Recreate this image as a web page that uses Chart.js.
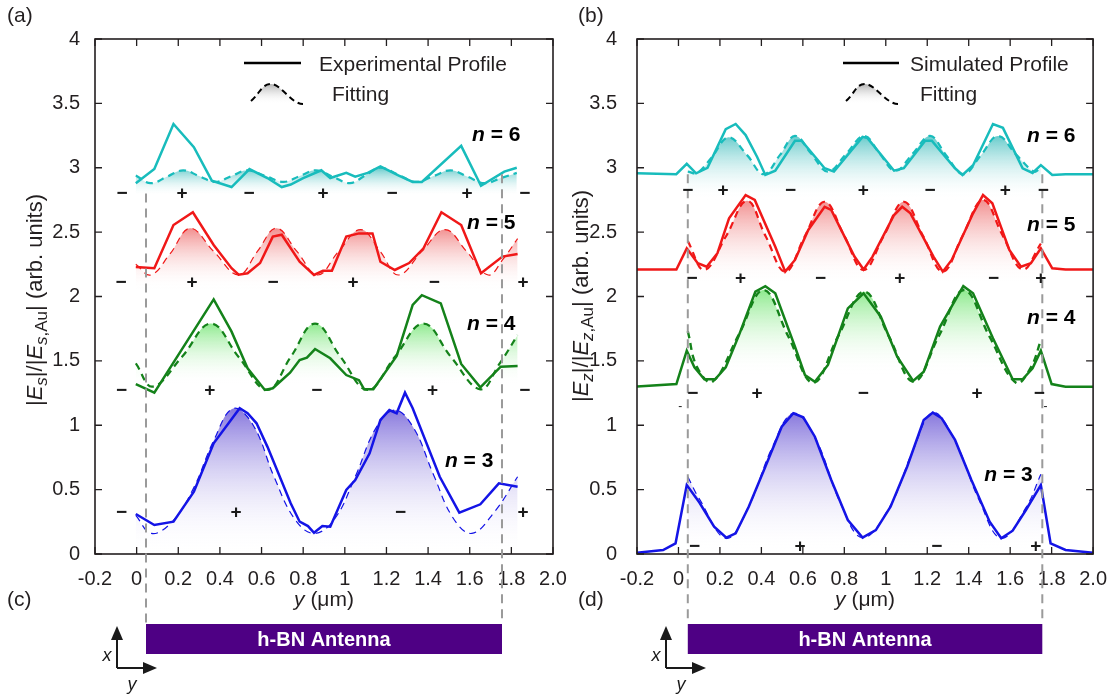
<!DOCTYPE html>
<html>
<head>
<meta charset="utf-8">
<script src="https://cdn.jsdelivr.net/npm/chart.js@4.4.1/dist/chart.umd.min.js"></script>
<style>
  html, body { margin: 0; padding: 0; background: #fff; }
  #wrap { position: relative; width: 1112px; height: 696px; overflow: hidden; }
  canvas { position: absolute; top: 0; }
  #cvA { left: 0; }
  #cvB { left: 556px; }
</style>
</head>
<body>
<div id="wrap">
  <canvas id="cvA" width="580" height="696"></canvas>
  <canvas id="cvB" width="556" height="696"></canvas>
</div>
<script>
// osy
const xTickVals = [-0.2, 0, 0.2, 0.4, 0.6, 0.8, 1, 1.2, 1.4, 1.6, 1.8, 2.0];
const xTickLabels = ['-0.2', '0', '0.2', '0.4', '0.6', '0.8', '1', '1.2', '1.4', '1.6', '1.8', '2.0'];
const yTickVals = [0, 0.5, 1, 1.5, 2, 2.5, 3, 3.5, 4];
const yTickLabels = ['0', '0.5', '1', '1.5', '2', '2.5', '3', '3.5', '4'];

// okraje antény (µm)
const antennaEdges = [0.045, 1.755];

// (a) experimentální profily
const aExp6 = [[-0.004,2.88],[0.085,2.99],[0.177,3.34],[0.275,3.16],[0.361,2.90],[0.456,2.85],[0.542,2.99],[0.628,2.92],[0.697,2.85],[0.74,2.87],[0.80,2.92],[0.887,2.98],[0.93,2.92],[1.007,2.96],[1.05,2.93],[1.11,2.96],[1.171,3.01],[1.257,2.94],[1.326,2.89],[1.37,2.89],[1.559,3.17],[1.654,2.86],[1.766,2.97],[1.826,3.0]];
const aFit6 = [[-0.004,2.94],[0.068,2.88],[0.145,2.93],[0.223,2.98],[0.30,2.935],[0.378,2.89],[0.455,2.935],[0.533,2.98],[0.62,2.935],[0.706,2.89],[0.783,2.935],[0.861,2.98],[0.943,2.93],[1.025,2.88],[1.098,2.94],[1.171,3.0],[1.257,2.945],[1.344,2.89],[1.426,2.935],[1.508,2.98],[1.59,2.93],[1.671,2.88],[1.75,2.92],[1.826,2.96]];
const aExp5 = [[-0.004,2.23],[0.085,2.22],[0.177,2.555],[0.27,2.654],[0.37,2.40],[0.456,2.22],[0.49,2.17],[0.533,2.18],[0.593,2.26],[0.654,2.465],[0.697,2.48],[0.783,2.27],[0.852,2.167],[0.895,2.20],[0.938,2.20],[1.007,2.465],[1.068,2.49],[1.133,2.49],[1.171,2.27],[1.24,2.206],[1.309,2.26],[1.378,2.374],[1.464,2.654],[1.559,2.555],[1.654,2.18],[1.757,2.31],[1.83,2.33]];
const aFit5 = [[-0.004,2.25],[0.068,2.167],[0.16,2.33],[0.257,2.53],[0.37,2.35],[0.49,2.167],[0.58,2.35],[0.671,2.53],[0.77,2.35],[0.87,2.167],[0.97,2.35],[1.076,2.52],[1.17,2.35],[1.257,2.167],[1.37,2.35],[1.481,2.52],[1.585,2.35],[1.689,2.167],[1.76,2.29],[1.83,2.45]];
const aExp4 = [[-0.004,1.32],[0.085,1.253],[0.37,1.978],[0.456,1.727],[0.533,1.442],[0.616,1.274],[0.654,1.287],[0.737,1.408],[0.783,1.507],[0.818,1.525],[0.857,1.592],[0.93,1.52],[1.007,1.39],[1.068,1.35],[1.093,1.279],[1.137,1.279],[1.249,1.538],[1.326,1.934],[1.37,2.01],[1.461,1.947],[1.559,1.476],[1.651,1.295],[1.749,1.455],[1.83,1.46]];
const aFit4 = [[-0.004,1.48],[0.077,1.30],[0.217,1.53],[0.357,1.79],[0.49,1.53],[0.628,1.274],[0.74,1.53],[0.857,1.79],[0.98,1.53],[1.11,1.274],[1.24,1.53],[1.378,1.79],[1.51,1.53],[1.651,1.279],[1.74,1.47],[1.83,1.70]];
const aExp3 = [[-0.004,0.311],[0.085,0.225],[0.177,0.251],[0.275,0.484],[0.37,0.86],[0.495,1.132],[0.533,1.093],[0.576,1.015],[0.628,0.834],[0.74,0.394],[0.783,0.251],[0.823,0.217],[0.852,0.165],[0.892,0.217],[0.93,0.212],[1.007,0.497],[1.05,0.575],[1.119,0.782],[1.171,1.041],[1.214,1.118],[1.249,1.093],[1.289,1.253],[1.326,1.132],[1.456,0.60],[1.55,0.321],[1.651,0.386],[1.74,0.549],[1.83,0.523]];
const aFit3 = [[-0.004,0.30],[0.071,0.16],[0.17,0.25],[0.27,0.50],[0.37,0.88],[0.464,1.13],[0.56,1.0],[0.66,0.60],[0.76,0.27],[0.852,0.16],[0.95,0.27],[1.05,0.60],[1.15,0.98],[1.24,1.118],[1.33,0.98],[1.425,0.62],[1.52,0.28],[1.61,0.16],[1.72,0.33],[1.83,0.60]];

// (b) simulované profily
const bSim6 = [[-0.2,2.957],[-0.0105,2.95],[0.04,3.03],[0.085,2.957],[0.14,3.0],[0.228,3.30],[0.276,3.34],[0.324,3.254],[0.379,3.086],[0.419,2.944],[0.467,2.977],[0.562,3.21],[0.594,3.21],[0.705,2.996],[0.75,2.97],[0.888,3.24],[0.912,3.23],[1.04,2.977],[1.087,2.996],[1.19,3.21],[1.222,3.21],[1.334,2.996],[1.37,2.944],[1.421,3.02],[1.517,3.34],[1.565,3.31],[1.66,2.996],[1.708,2.96],[1.748,3.02],[1.803,2.944],[1.867,2.95],[2.0,2.95]];
const bFit6 = [[0.045,2.97],[0.09,2.96],[0.16,3.08],[0.241,3.236],[0.33,3.1],[0.411,2.95],[0.49,3.1],[0.562,3.247],[0.64,3.11],[0.721,2.97],[0.81,3.11],[0.896,3.247],[0.97,3.11],[1.047,2.977],[1.13,3.11],[1.214,3.247],[1.29,3.1],[1.374,2.95],[1.46,3.1],[1.541,3.247],[1.63,3.1],[1.716,2.97],[1.748,3.0]];
const bSim5 = [[-0.2,2.21],[-0.01,2.21],[0.04,2.374],[0.093,2.258],[0.136,2.231],[0.188,2.336],[0.244,2.607],[0.324,2.788],[0.368,2.75],[0.467,2.387],[0.515,2.193],[0.562,2.284],[0.626,2.517],[0.705,2.697],[0.737,2.672],[0.849,2.31],[0.893,2.21],[0.936,2.31],[1.04,2.633],[1.079,2.697],[1.119,2.646],[1.23,2.31],[1.275,2.193],[1.318,2.284],[1.421,2.646],[1.469,2.788],[1.514,2.724],[1.596,2.361],[1.652,2.231],[1.7,2.258],[1.748,2.374],[1.803,2.219],[1.867,2.21],[2.0,2.21]];
const bFit5 = [[0.045,2.43],[0.125,2.206],[0.23,2.47],[0.331,2.744],[0.42,2.47],[0.515,2.193],[0.61,2.47],[0.705,2.736],[0.80,2.47],[0.893,2.206],[0.99,2.47],[1.087,2.736],[1.18,2.47],[1.275,2.193],[1.37,2.47],[1.469,2.75],[1.565,2.47],[1.66,2.21],[1.748,2.41]];
const bSim4 = [[-0.2,1.30],[-0.01,1.32],[0.04,1.579],[0.077,1.45],[0.125,1.357],[0.177,1.357],[0.228,1.45],[0.292,1.70],[0.371,2.037],[0.419,2.08],[0.467,2.025],[0.562,1.61],[0.61,1.39],[0.658,1.338],[0.721,1.468],[0.817,1.908],[0.893,2.025],[0.976,1.843],[1.055,1.532],[1.132,1.344],[1.183,1.416],[1.262,1.766],[1.374,2.08],[1.421,2.025],[1.517,1.675],[1.612,1.357],[1.66,1.357],[1.708,1.442],[1.748,1.579],[1.80,1.32],[1.867,1.30],[2.0,1.30]];
const bFit4 = [[0.045,1.73],[0.09,1.45],[0.164,1.338],[0.29,1.70],[0.411,2.05],[0.53,1.69],[0.65,1.33],[0.77,1.69],[0.896,2.037],[1.015,1.69],[1.135,1.338],[1.255,1.69],[1.377,2.05],[1.50,1.69],[1.628,1.33],[1.70,1.45],[1.748,1.66]];
const bSim3 = [[-0.2,0.01],[-0.074,0.031],[-0.014,0.083],[0.04,0.536],[0.101,0.40],[0.172,0.212],[0.231,0.127],[0.276,0.161],[0.339,0.367],[0.419,0.678],[0.498,0.989],[0.554,1.093],[0.602,1.062],[0.658,0.911],[0.737,0.575],[0.817,0.264],[0.888,0.127],[0.952,0.186],[1.023,0.367],[1.103,0.678],[1.183,1.041],[1.227,1.098],[1.27,1.054],[1.334,0.886],[1.413,0.575],[1.501,0.251],[1.557,0.122],[1.612,0.181],[1.676,0.342],[1.748,0.536],[1.795,0.083],[1.867,0.031],[2.0,0.01]];
const bFit3 = [[0.045,0.60],[0.10,0.43],[0.231,0.122],[0.339,0.37],[0.45,0.82],[0.554,1.093],[0.66,0.90],[0.78,0.40],[0.888,0.127],[1.02,0.37],[1.13,0.80],[1.227,1.098],[1.33,0.89],[1.45,0.42],[1.557,0.122],[1.676,0.36],[1.748,0.62]];

// spodní hranice výplní fitů
const aFillBase = [2.78, 2.05, 1.31, 0];
const bFillBase = [2.75, 2.10, 1.40, 0];

// znaménka náboje [x, y, znak]
const aSigns = [
  [-0.07,2.80,'−'],[0.218,2.80,'+'],[0.54,2.80,'−'],[0.895,2.80,'+'],[1.227,2.80,'−'],[1.587,2.80,'+'],[1.865,2.80,'−'],
  [-0.075,2.105,'−'],[0.266,2.105,'+'],[0.655,2.105,'−'],[1.04,2.105,'+'],[1.43,2.105,'−'],[1.856,2.105,'+'],
  [-0.072,1.266,'−'],[0.352,1.266,'+'],[0.866,1.266,'−'],[1.422,1.266,'+'],[1.864,1.266,'−'],
  [-0.072,0.32,'−'],[0.477,0.32,'+'],[1.268,0.32,'−'],[1.856,0.32,'+']
];
const bSigns = [
  [0.045,2.82,'−'],[0.215,2.82,'+'],[0.541,2.82,'−'],[0.892,2.82,'+'],[1.214,2.82,'−'],[1.576,2.82,'+'],[1.76,2.82,'−'],
  [0.066,2.14,'−'],[0.30,2.14,'+'],[0.685,2.14,'−'],[1.068,2.14,'+'],[1.52,2.14,'−'],[1.748,2.14,'+'],
  [0.069,1.248,'−'],[0.379,1.248,'+'],[0.892,1.248,'−'],[1.44,1.248,'+'],[1.74,1.248,'−'],
  [0.077,0.057,'−'],[0.586,0.057,'+'],[1.246,0.057,'−'],[1.724,0.057,'+']
];
const bSmallSigns = [[0.009,1.145,'-'],[1.771,1.145,'-']];

// popisky módů [x, y, n]
const aModes = [[1.611,3.25,'6'],[1.587,2.57,'5'],[1.587,1.786,'4'],[1.481,0.722,'3']];
const bModes = [[1.681,3.247,'6'],[1.681,2.555,'5'],[1.681,1.833,'4'],[1.475,0.614,'3']];

const FONT = "'Liberation Sans', Arial, sans-serif";
const INK = '#231f20';

// barvy: [čára, výplň]
const modeColors = {
  6: ['#18bcbc', 'rgba(95,200,200,0.95)'],
  5: ['#f01818', 'rgba(240,130,130,0.9)'],
  4: ['#14821a', 'rgba(130,232,130,0.9)'],
  3: ['#1414e6', 'rgba(125,108,218,0.92)']
};

function pts(arr) { return arr.map(p => ({ x: p[0], y: p[1] })); }

function fadeFill(topColor, arr, base) {
  const topVal = Math.max(...arr.map(p => p[1]));
  return (c) => {
    const ch = c.chart;
    if (!ch.chartArea) return topColor;
    const ys = ch.scales.y;
    const g = ch.ctx.createLinearGradient(0, ys.getPixelForValue(topVal), 0, ys.getPixelForValue(base));
    g.addColorStop(0, topColor);
    g.addColorStop(1, 'rgba(255,255,255,0)');
    return g;
  };
}

function fitDs(arr, n, base, width) {
  return {
    data: pts(arr),
    borderColor: modeColors[n][0],
    borderWidth: width,
    borderDash: [7, 5],
    backgroundColor: fadeFill(modeColors[n][1], arr, base),
    fill: { value: base },
    tension: 0.4,
    pointRadius: 0,
    order: 1
  };
}

function lineDs(arr, n) {
  return {
    data: pts(arr),
    borderColor: modeColors[n][0],
    borderWidth: 2.5,
    fill: false,
    tension: 0,
    pointRadius: 0,
    order: 0
  };
}

function richWidth(ctx, parts) {
  let w = 0;
  parts.forEach(p => { ctx.font = p.f; w += ctx.measureText(p.t).width; });
  return w;
}

function drawRich(ctx, parts, x, y, align) {
  const w = richWidth(ctx, parts);
  let cx = align === 'center' ? x - w / 2 : (align === 'right' ? x - w : x);
  ctx.textAlign = 'left';
  ctx.textBaseline = 'middle';
  parts.forEach(p => {
    ctx.font = p.f;
    ctx.fillText(p.t, cx, y + (p.dy || 0));
    cx += ctx.measureText(p.t).width;
  });
}

function arrowHead(ctx, x, y, dir) {
  ctx.beginPath();
  if (dir === 'up') { ctx.moveTo(x, y - 12); ctx.lineTo(x - 6, y + 2); ctx.lineTo(x + 6, y + 2); }
  else { ctx.moveTo(x + 12, y); ctx.lineTo(x - 2, y - 6); ctx.lineTo(x - 2, y + 6); }
  ctx.closePath();
  ctx.fill();
}

// dekorace: rámeček, tiky dovnitř, anténa, znaménka, legenda, titulky
const decoPlugin = {
  id: 'deco',
  afterDraw(chart, args, o) {
    const ctx = chart.ctx, a = chart.chartArea, xs = chart.scales.x, ys = chart.scales.y;
    ctx.save();

    // tiky dovnitř
    ctx.strokeStyle = INK;
    ctx.lineWidth = 1.3;
    ctx.beginPath();
    xTickVals.forEach(v => {
      const px = xs.getPixelForValue(v);
      ctx.moveTo(px, a.bottom); ctx.lineTo(px, a.bottom - 7);
      ctx.moveTo(px, a.top); ctx.lineTo(px, a.top + 7);
    });
    yTickVals.forEach(v => {
      const py = ys.getPixelForValue(v);
      ctx.moveTo(a.left, py); ctx.lineTo(a.left + 7, py);
      ctx.moveTo(a.right, py); ctx.lineTo(a.right - 7, py);
    });
    ctx.stroke();
    ctx.lineWidth = 1.6;
    ctx.strokeRect(a.left, a.top, a.right - a.left, a.bottom - a.top);

    // svislé čárkované čáry na okrajích antény
    const barTop = 624, barH = 30;
    ctx.strokeStyle = '#9a9a9a';
    ctx.lineWidth = 2;
    ctx.setLineDash([9, 6]);
    antennaEdges.forEach((e, i) => {
      const px = xs.getPixelForValue(e);
      ctx.beginPath();
      ctx.moveTo(px, ys.getPixelForValue(o.dashTop[i]));
      ctx.lineTo(px, barTop);
      ctx.stroke();
    });
    ctx.setLineDash([]);

    // anténa
    const bx1 = xs.getPixelForValue(antennaEdges[0]), bx2 = xs.getPixelForValue(antennaEdges[1]);
    ctx.fillStyle = '#4e0084';
    ctx.fillRect(bx1, barTop, bx2 - bx1, barH);
    ctx.fillStyle = '#fff';
    drawRich(ctx, [{ t: 'h-BN Antenna', f: 'bold 20px ' + FONT }], (bx1 + bx2) / 2, barTop + barH / 2 + 1, 'center');

    // osy x/y
    const ox = o.arrow[0], oy = o.arrow[1];
    ctx.strokeStyle = '#1a1a1a';
    ctx.fillStyle = '#1a1a1a';
    ctx.lineWidth = 2;
    ctx.beginPath();
    ctx.moveTo(ox, oy); ctx.lineTo(ox, oy - 28);
    ctx.moveTo(ox, oy); ctx.lineTo(ox + 28, oy);
    ctx.stroke();
    arrowHead(ctx, ox, oy - 30, 'up');
    arrowHead(ctx, ox + 28, oy, 'right');
    drawRich(ctx, [{ t: 'x', f: 'italic 18px ' + FONT }], ox - 10, oy - 12, 'center');
    drawRich(ctx, [{ t: 'y', f: 'italic 18px ' + FONT }], ox + 15, oy + 17, 'center');

    // znaménka
    ctx.fillStyle = '#1a1a1a';
    o.signs.forEach(s => {
      drawRich(ctx, [{ t: s[2], f: 'bold 19px ' + FONT }], xs.getPixelForValue(s[0]), ys.getPixelForValue(s[1]), 'center');
    });
    (o.smallSigns || []).forEach(s => {
      drawRich(ctx, [{ t: s[2], f: '12px ' + FONT }], xs.getPixelForValue(s[0]), ys.getPixelForValue(s[1]), 'center');
    });

    // n = ...
    ctx.fillStyle = '#000';
    o.modes.forEach(m => {
      drawRich(ctx, [{ t: 'n', f: 'italic bold 21px ' + FONT }, { t: ' = ' + m[2], f: 'bold 21px ' + FONT }],
        xs.getPixelForValue(m[0]), ys.getPixelForValue(m[1]), 'left');
    });

    // legenda
    const L = o.legend;
    ctx.strokeStyle = '#000';
    ctx.lineWidth = 2.5;
    ctx.beginPath();
    ctx.moveTo(L.line[0], 63); ctx.lineTo(L.line[1], 63);
    ctx.stroke();
    ctx.fillStyle = INK;
    drawRich(ctx, [{ t: L.text, f: '21px ' + FONT }], L.textX, 65, 'left');
    drawRich(ctx, [{ t: 'Fitting', f: '21px ' + FONT }], L.fitX, 95, 'left');
    const i1 = L.icon[0], im = L.icon[1], i2 = L.icon[2];
    const bump = new Path2D();
    bump.moveTo(i1, 101);
    bump.bezierCurveTo(i1 + 9, 93, im - 9, 84, im, 84);
    bump.bezierCurveTo(im + 10, 84, i2 - 12, 104, i2, 104);
    const fillPath = new Path2D(bump);
    fillPath.lineTo(i2, 106); fillPath.lineTo(i1, 106); fillPath.closePath();
    const g = ctx.createLinearGradient(0, 84, 0, 104);
    g.addColorStop(0, 'rgba(170,170,170,0.9)');
    g.addColorStop(1, 'rgba(255,255,255,0)');
    ctx.fillStyle = g;
    ctx.fill(fillPath);
    ctx.setLineDash([6, 4]);
    ctx.lineWidth = 2;
    ctx.stroke(bump);
    ctx.setLineDash([]);

    // titulky os
    ctx.fillStyle = INK;
    drawRich(ctx, [{ t: 'y', f: 'italic 21px ' + FONT }, { t: ' (μm)', f: '21px ' + FONT }], (a.left + a.right) / 2, 600, 'center');
    ctx.save();
    ctx.translate(o.yTitle[0], o.yTitle[1]);
    ctx.rotate(-Math.PI / 2);
    const sub = o.sub;
    drawRich(ctx, [
      { t: '|', f: '22px ' + FONT },
      { t: 'E', f: 'italic 22px ' + FONT },
      { t: sub, f: 'italic 17px ' + FONT, dy: 6 },
      { t: '|/|', f: '22px ' + FONT },
      { t: 'E', f: 'italic 22px ' + FONT },
      { t: sub, f: 'italic 17px ' + FONT, dy: 6 },
      { t: ',Au', f: '17px ' + FONT, dy: 6 },
      { t: '| (arb. units)', f: '22px ' + FONT }
    ], 0, 0, 'center');
    ctx.restore();

    // písmena panelů
    drawRich(ctx, [{ t: o.panel[0], f: '21px ' + FONT }], o.panelX, 16, 'left');
    drawRich(ctx, [{ t: o.panel[1], f: '21px ' + FONT }], o.panelX, 600, 'left');

    ctx.restore();
  }
};

function makeChart(id, datasets, cfg) {
  return new Chart(document.getElementById(id), {
    type: 'line',
    data: { datasets },
    plugins: [decoPlugin],
    options: {
      responsive: false,
      animation: false,
      layout: { padding: { left: 0, right: cfg.padRight, top: 39, bottom: 0 } },
      plugins: {
        legend: { display: false },
        tooltip: { enabled: false },
        filler: { drawTime: 'beforeDatasetsDraw' },
        deco: cfg.deco
      },
      scales: {
        x: {
          type: 'linear', min: -0.2, max: 2.0,
          grid: { display: false }, border: { display: false },
          afterBuildTicks: s => { s.ticks = xTickVals.map(v => ({ value: v })); },
          afterFit: s => { s.height = 142; },
          ticks: {
            padding: 5, color: INK, autoSkip: false, maxRotation: 0,
            font: { family: FONT, size: 20 },
            callback: (v, i) => xTickLabels[i]
          }
        },
        y: {
          type: 'linear', min: 0, max: 4,
          grid: { display: false }, border: { display: false },
          afterBuildTicks: s => { s.ticks = yTickVals.map(v => ({ value: v })); },
          afterFit: s => { s.width = cfg.yWidth; },
          ticks: {
            padding: cfg.yPad, color: INK,
            font: { family: FONT, size: 20 },
            callback: (v, i) => yTickLabels[i]
          }
        }
      }
    }
  });
}

makeChart('cvA', [
  fitDs(aFit6, 6, aFillBase[0], 2.2), lineDs(aExp6, 6),
  fitDs(aFit5, 5, aFillBase[1], 1.2), lineDs(aExp5, 5),
  fitDs(aFit4, 4, aFillBase[2], 2.2), lineDs(aExp4, 4),
  fitDs(aFit3, 3, aFillBase[3], 1.2), lineDs(aExp3, 3)
], {
  padRight: 27, yWidth: 95, yPad: 7,
  deco: {
    dashTop: [2.8, 2.95],
    arrow: [117, 668],
    signs: aSigns,
    modes: aModes,
    legend: { line: [244, 301], text: 'Experimental Profile', textX: 319, fitX: 332, icon: [251, 271, 303] },
    yTitle: [36, 300],
    sub: 's',
    panel: ['(a)', '(c)'],
    panelX: 7
  }
});

makeChart('cvB', [
  fitDs(bFit6, 6, bFillBase[0], 2.2), lineDs(bSim6, 6),
  fitDs(bFit5, 5, bFillBase[1], 2.2), lineDs(bSim5, 5),
  fitDs(bFit4, 4, bFillBase[2], 2.4), lineDs(bSim4, 4),
  fitDs(bFit3, 3, bFillBase[3], 1.2), lineDs(bSim3, 3)
], {
  padRight: 16, yWidth: 81, yPad: 12,
  deco: {
    dashTop: [2.95, 2.95],
    arrow: [110, 668],
    signs: bSigns,
    smallSigns: bSmallSigns,
    modes: bModes,
    legend: { line: [287, 343], text: 'Simulated Profile', textX: 354, fitX: 364, icon: [290, 309, 342] },
    yTitle: [26, 296],
    sub: 'z',
    panel: ['(b)', '(d)'],
    panelX: 22
  }
});
</script>
</body>
</html>
